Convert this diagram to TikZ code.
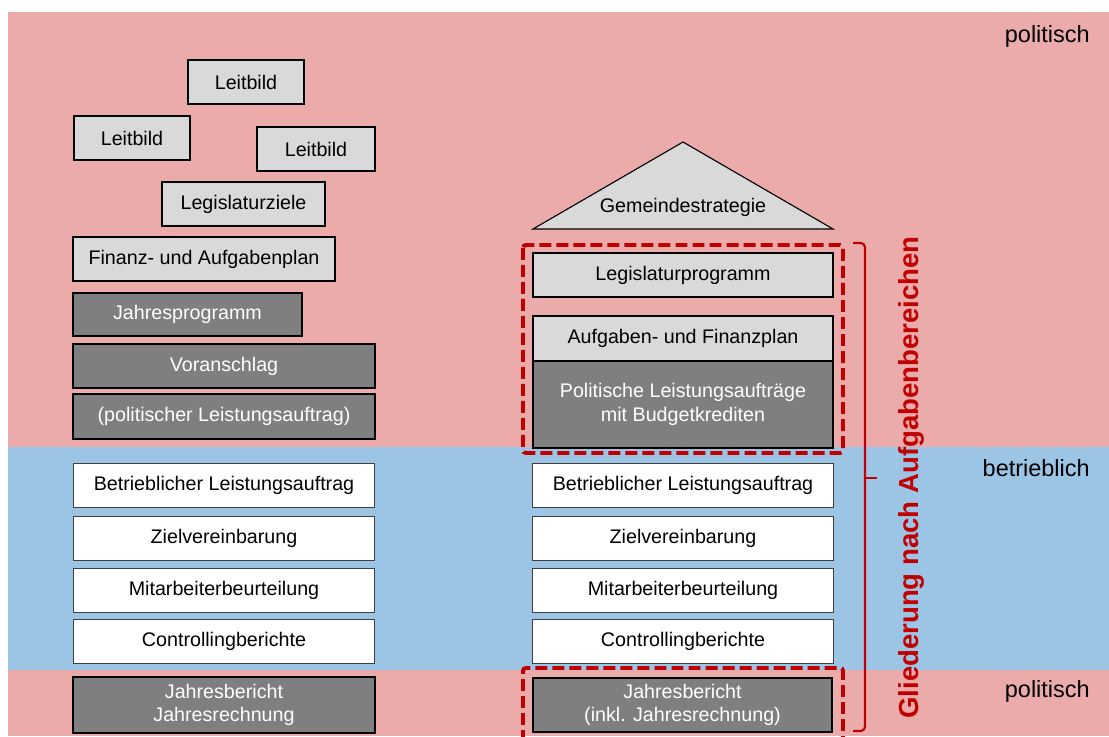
\documentclass[tikz,border=0pt]{standalone}
\usepackage{fontspec}
\setmainfont{Liberation Sans}
\usetikzlibrary{positioning}

\definecolor{polrot}{RGB}{236,171,171}
\definecolor{betrblau}{RGB}{156,196,229}
\definecolor{hellgrau}{RGB}{217,217,217}
\definecolor{dunkelgrau}{RGB}{127,127,127}
\definecolor{akzentrot}{RGB}{192,0,0}

\tikzset{
  kasten/.style={draw=black, line width=1.1pt, inner sep=0pt, outer sep=0pt,
    align=center, font=\fontsize{14}{16.8}\selectfont},
  hellbox/.style={kasten, fill=hellgrau, text=black},
  dunkelbox/.style={kasten, fill=dunkelgrau, text=white},
  weissbox/.style={kasten, fill=white, draw=black!75, line width=0.7pt,
    minimum width=7.5cm, minimum height=1.1cm},
  ebene/.style={font=\fontsize{16.7}{20}\selectfont, anchor=base east, inner sep=0pt},
  gliederung/.style={draw=akzentrot, line width=2.8pt, dash pattern=on 8.5pt off 3.6pt},
}

\begin{document}
\begin{tikzpicture}[x=0.025cm, y=-0.025cm]
    \useasboundingbox (0,0) rectangle (1109,736);
    % Ebenen
    \fill[polrot] (8,12) rectangle (1109,447);
    \fill[betrblau] (8,447) rectangle (1109,670);
    \fill[polrot] (8,670) rectangle (1109,736);

    \node[ebene] (polOben) at (1090,43) {politisch};
    \node[ebene] (betrieb) at (1090,476) {betrieblich};
    \node[ebene] (polUnten) at (1090,697) {politisch};

    % linke Spalte
    \node[hellbox, minimum width=2.9cm, minimum height=1.1cm] (leitbildA) at (246,82) {Leitbild};
    \node[hellbox, minimum width=2.9cm, minimum height=1.1cm] (leitbildB) at (132,138) {Leitbild};
    \node[hellbox, minimum width=2.95cm, minimum height=1.1cm] (leitbildC) at (316,149) {Leitbild};
    \node[hellbox, minimum width=4.075cm, minimum height=1.1cm] (legziele) at (243.5,204) {Legislaturziele};
    \node[hellbox, minimum width=6.55cm, minimum height=1.1cm] (finanz) at (204,259) {Finanz- und Aufgabenplan};
    \node[dunkelbox, minimum width=5.725cm, minimum height=1.075cm] (jahresprog) at (187.5,314.5) {Jahresprogramm};
    \node[dunkelbox, minimum width=7.55cm, minimum height=1.1cm] (voranschlag) at (224,366) {Voranschlag};
    \node[dunkelbox, minimum width=7.55cm, minimum height=1.125cm] (polauftrag) at (224,416.5) {(politischer Leistungsauftrag)};
    \node[dunkelbox, minimum width=7.55cm, minimum height=1.4cm] (ljahresb) at (224,705) {Jahresbericht\\Jahresrechnung};

    % rechte Spalte
    \coordinate (dachL) at (533,229);
    \coordinate (dachF) at (683,142);
    \coordinate (dachR) at (833,229);
    \filldraw[fill=hellgrau, draw=black, line width=0.8pt] (dachL) -- (dachF) -- (dachR) -- cycle;
    \node[font=\fontsize{14}{16.8}\selectfont] (gemeinde) at (683,207) {Gemeindestrategie};
    \node[hellbox, minimum width=7.5cm, minimum height=1.1cm] (legprog) at (683,275) {Legislaturprogramm};
    \node[hellbox, minimum width=7.5cm, minimum height=1.125cm] (aufgaben) at (683,338.5) {Aufgaben- und Finanzplan};
    \node[dunkelbox, minimum width=7.5cm, minimum height=2.175cm, below=0pt of aufgaben] (polleist)
        {Politische Leistungsaufträge\\mit Budgetkrediten};
    \node[dunkelbox, minimum width=7.475cm, minimum height=1.35cm] (rjahresb) at (682.5,705)
        {Jahresbericht\\(inkl. Jahresrechnung)};

    % betriebliche Ebene, beide Spalten
    \foreach \n/\t/\y in {betr/Betrieblicher Leistungsauftrag/485,
                          ziel/Zielvereinbarung/538.5,
                          mitarb/Mitarbeiterbeurteilung/590,
                          contr/Controllingberichte/641}
    {
        \node[weissbox] (l\n) at (224,\y) {\t};
        \node[weissbox] (r\n) at (683,\y) {\t};
    }

    % Gliederung nach Aufgabenbereichen
    \draw[gliederung, rounded corners=2pt] (523,245) rectangle (843,453);
    \draw[gliederung, rounded corners=2pt] (523,742) -- (523,668) -- (843,668) -- (843,742);
    \draw[akzentrot, line width=1.5pt, rounded corners=3pt] (853,243) -- (865,243) -- (865,731) -- (853,731);
    \draw[akzentrot, line width=1.5pt] (865,478) -- (877,478);
    \node[rotate=90, anchor=base, text=akzentrot, font=\bfseries\fontsize{19.6}{23}\selectfont] (gliedtext)
        at (918,477.5) {Gliederung nach Aufgabenbereichen};
\end{tikzpicture}
\end{document}
